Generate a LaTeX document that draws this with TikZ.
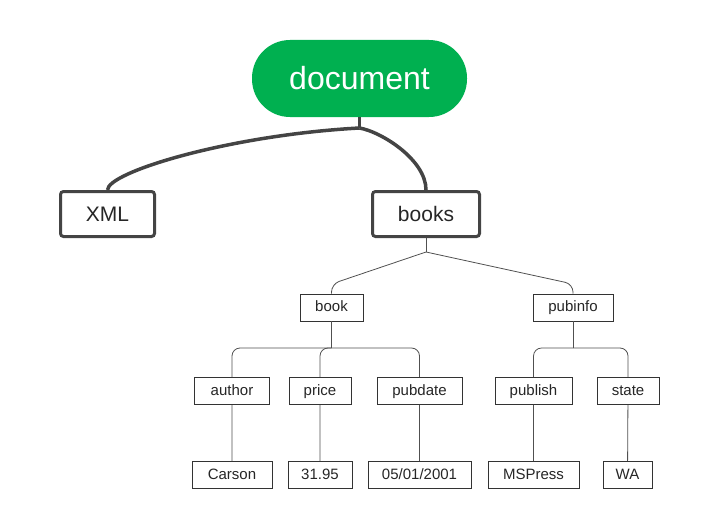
\documentclass[tikz,border=0pt]{standalone}
\usepackage{fontspec}
\setmainfont{Liberation Sans}
\usepackage{tikz}
\definecolor{docgreen}{RGB}{0,176,80}
\definecolor{darkline}{RGB}{68,68,68}
\definecolor{thinline}{RGB}{80,80,80}
\tikzstyle{rootnode}=[rectangle,rounded corners=38pt,fill=docgreen,
                      text=white,inner sep=0pt,minimum width=215pt,
                      minimum height=77pt,font=\fontsize{32}{38}\selectfont]
\tikzstyle{midbox}=[rectangle,rounded corners=3pt,draw=darkline,
                    line width=3pt,fill=white,text=black!85,inner sep=0pt,
                    minimum height=45pt,font=\fontsize{21}{25}\selectfont]
\tikzstyle{leafbox}=[rectangle,draw=black!80,line width=0.8pt,fill=white,
                     text=black!85,inner sep=0pt,minimum height=27pt,
                     text height=11pt,text depth=3pt,
                     font=\fontsize{15}{18}\selectfont]
\tikzstyle{thick link}=[draw=darkline,line width=3.5pt]
\tikzstyle{thin link}=[draw=thinline,line width=0.8pt,rounded corners=8pt]

\begin{document}
\begin{tikzpicture}[x=1pt,y=-1pt]
    \useasboundingbox (0,0) rectangle (711,519);
    \node (doc) at (359.5, 78.5) [rootnode]{document};
    \node (xml) at (107.5, 214) [midbox,minimum width=94pt]{XML};
    \node (books) at (426, 214) [midbox,minimum width=107pt]{books};
    \node (book) at (331.5, 307.5) [leafbox,minimum width=63pt]{book};
    \node (pubinfo) at (573, 307.5) [leafbox,minimum width=80pt]{pubinfo};
    \node (author) at (232, 391) [leafbox,minimum width=75pt]{author};
    \node (price) at (320, 391) [leafbox,minimum width=62pt]{price};
    \node (pubdate) at (419.5, 391) [leafbox,minimum width=85pt]{pubdate};
    \node (publish) at (533.5, 391) [leafbox,minimum width=77pt]{publish};
    \node (state) at (628, 391) [leafbox,minimum width=62pt]{state};
    \node (carson) at (232, 475) [leafbox,minimum width=80pt]{Carson};
    \node (cost) at (320, 475) [leafbox,minimum width=64pt]{31.95};
    \node (date) at (419.5, 475) [leafbox,minimum width=103pt]{05/01/2001};
    \node (mspress) at (533.5, 475) [leafbox,minimum width=91pt]{MSPress};
    \node (wa) at (627.5, 475) [leafbox,minimum width=49pt]{WA};
    % document -> XML, books
    \coordinate (dsplit) at (359.5, 128);
    \draw[thick link] (doc.south) -- (dsplit);
    \draw[thick link] (dsplit) .. controls (230,135) and (107.5,172) .. (xml.north);
    \draw[thick link] (dsplit) .. controls (382,132) and (426,160) .. (books.north);
    % books -> book, pubinfo
    \coordinate (bsplit) at (426, 252);
    \draw[thin link] (books.south) -- (bsplit);
    \draw[thin link] (bsplit) -- (331.5, 284) -- (book.north);
    \draw[thin link] (bsplit) -- (573, 284) -- (pubinfo.north);
    % book, pubinfo -> children
    \coordinate (kbar) at (0, 348);
    \draw[thin link] (book.south) -- (book.south |- kbar);
    \draw[thin link] (pubinfo.south) -- (pubinfo.south |- kbar);
    \foreach \c in {author,price,pubdate}
      \draw[thin link] (book.south |- kbar) -- (\c.north |- kbar) -- (\c.north);
    \foreach \c in {publish,state}
      \draw[thin link] (pubinfo.south |- kbar) -- (\c.north |- kbar) -- (\c.north);
    % values
    \draw[thin link] (author) -- (carson) (price) -- (cost) (pubdate) -- (date)
                     (publish) -- (mspress) (state) -- (wa);
  \end{tikzpicture}
\end{document}
